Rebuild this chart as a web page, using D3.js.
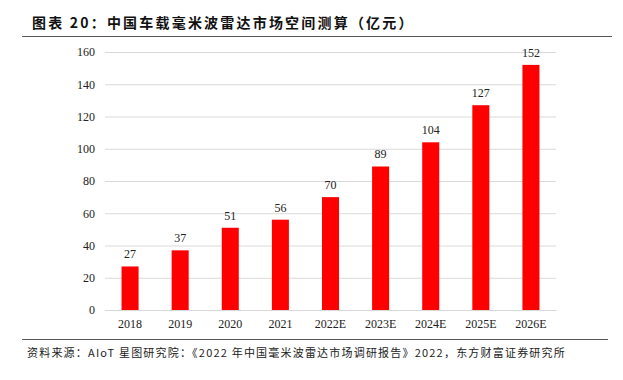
<!DOCTYPE html>
<html><head><meta charset="utf-8">
<script src="https://cdn.jsdelivr.net/npm/d3@7"></script>
<style>body{margin:0;background:#fff}svg{display:block}</style>
</head><body>
<script>
const categories = ["2018","2019","2020","2021","2022E","2023E","2024E","2025E","2026E"];
const values = [27,37,51,56,70,89,104,127,152];
const yTicks = [0,20,40,60,80,100,120,140,160];
const title = "图表 20：中国车载毫米波雷达市场空间测算（亿元）";
const source = "资料来源：AIoT 星图研究院：《2022 年中国毫米波雷达市场调研报告》2022，东方财富证券研究所";

const W = 623, H = 380;
const svg = d3.select("body").append("svg").attr("width", W).attr("height", H);
const m = {left:105, right:556, top:52, bottom:310};

svg.append("text").attr("x", 32).attr("y", 28).text(title)
  .attr("font-family", "'Noto Sans CJK SC'").attr("font-weight", "bold")
  .attr("font-size", 14).attr("fill", "#111").attr("letter-spacing", 2.2);
svg.append("line").attr("x1", 22).attr("x2", 612).attr("y1", 36.5).attr("y2", 36.5)
  .attr("stroke", "#555").attr("stroke-width", 1.2);
svg.append("line").attr("x1", 22).attr("x2", 608).attr("y1", 339.5).attr("y2", 339.5)
  .attr("stroke", "#555").attr("stroke-width", 1.2);
svg.append("text").attr("x", 27).attr("y", 357).text(source)
  .attr("font-family", "'Noto Sans CJK SC'").attr("font-size", 11).attr("fill", "#222")
  .attr("letter-spacing", 1.2);

const x = d3.scaleBand().domain(categories).range([m.left, m.right]).paddingInner(0.66).paddingOuter(0.33);
const y = d3.scaleLinear().domain([0,160]).range([m.bottom, m.top]);

const ya = svg.append("g").attr("transform", `translate(${m.left},0)`)
  .call(d3.axisLeft(y).tickValues(yTicks).tickSize(-(m.right-m.left)).tickPadding(10))
  .attr("font-family", "'Liberation Serif'").attr("font-size", 12);
ya.select(".domain").remove();
ya.selectAll(".tick line").attr("stroke", "#d9d9d9");
ya.selectAll("text").attr("font-family", "'Liberation Serif'").attr("font-size", 12).attr("fill", "#222");

const xa = svg.append("g").attr("transform", `translate(0,${m.bottom})`)
  .call(d3.axisBottom(x).tickSize(0).tickPadding(9))
  .attr("font-family", "'Liberation Serif'").attr("font-size", 12);
xa.select(".domain").attr("stroke", "#d9d9d9");
xa.selectAll("text").attr("font-family", "'Liberation Serif'").attr("font-size", 12).attr("fill", "#222");

svg.append("g").selectAll("rect").data(values).join("rect")
  .attr("x", (d,i)=>x(categories[i])).attr("width", x.bandwidth())
  .attr("y", d=>y(d)).attr("height", d=>m.bottom - y(d)).attr("fill", "#ff0000");

svg.append("g").selectAll("text").data(values).join("text")
  .attr("x", (d,i)=>x(categories[i]) + x.bandwidth()/2).attr("y", d=>y(d)-8)
  .attr("text-anchor", "middle").text(d=>d)
  .attr("font-family", "'Liberation Serif'").attr("font-size", 12).attr("fill", "#222");
</script>
</body></html>
